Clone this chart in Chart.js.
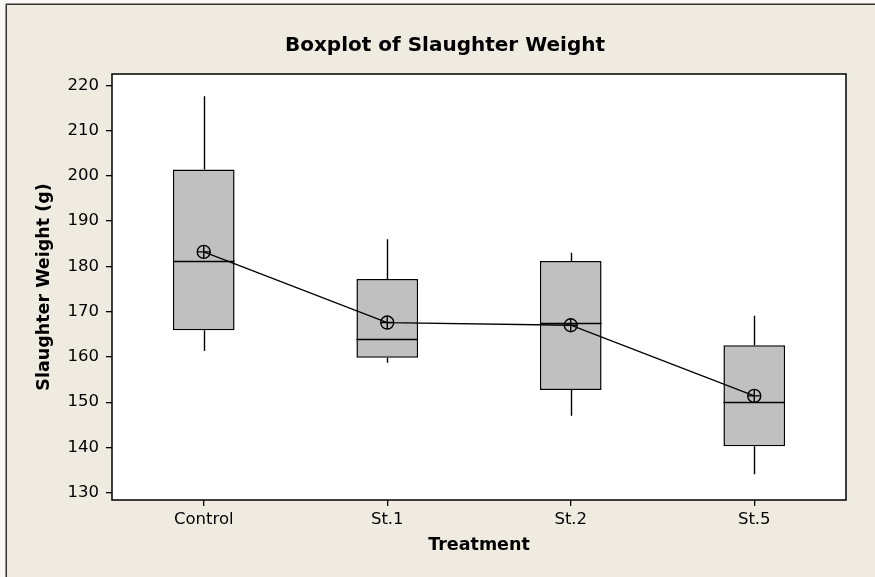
<!DOCTYPE html>
<html>
<head>
<meta charset="utf-8">
<script src="https://cdn.jsdelivr.net/npm/chart.js@4/dist/chart.umd.min.js"></script>
<style>
  body { margin: 0; background: #f8f7f3; }
  canvas { display: block; }
</style>
</head>
<body>
<canvas id="boxChart" width="875" height="577"></canvas>
<script>
// Boxplot values (g)
const categories = ['Control', 'St.1', 'St.2', 'St.5'];
const whiskerLow = [161.3, 158.7, 147.0, 134.1];
const q1 = [165.9, 159.8, 152.7, 140.3];
const median = [181.2, 163.9, 167.6, 150.0];
const q3 = [201.4, 177.2, 181.2, 162.6];
const whiskerHigh = [217.6, 186.0, 183.0, 169.1];
const means = [183.2, 167.6, 167.0, 151.4];

const font = 'DejaVu Sans';

// Backdrop, panel frame and the plot box
const backdrop = {
    id: 'backdrop',
    beforeDraw(chart) {
        const { ctx, width, height, chartArea: a } = chart;
        ctx.save();
        ctx.fillStyle = '#f8f7f3';
        ctx.fillRect(0, 0, width, height);
        ctx.fillStyle = '#efebe1';
        ctx.fillRect(6, 4, width - 6, height - 4);
        ctx.strokeStyle = '#333';
        ctx.lineWidth = 1.5;
        ctx.beginPath();
        ctx.moveTo(6.25, height);
        ctx.lineTo(6.25, 4.25);
        ctx.lineTo(width, 4.25);
        ctx.stroke();
        ctx.fillStyle = '#fff';
        ctx.fillRect(a.left, a.top, a.right - a.left, a.bottom - a.top);
        ctx.restore();
    },
    afterDraw(chart) {
        const { ctx, chartArea: a } = chart;
        ctx.save();
        ctx.strokeStyle = '#000';
        ctx.lineWidth = 1.5;
        ctx.strokeRect(Math.round(a.left), Math.round(a.top),
            Math.round(a.right - a.left), Math.round(a.bottom - a.top));
        ctx.restore();
    }
};

// Whiskers and medians, drawn right after the boxes
const whiskers = {
    id: 'whiskers',
    afterDatasetDraw(chart, args) {
        if (args.index !== 0) return;
        const { ctx, scales: { y } } = chart;
        ctx.save();
        ctx.strokeStyle = '#000';
        ctx.lineWidth = 1.4;
        args.meta.data.forEach((bar, i) => {
            const x = Math.round(bar.x) + 0.5;
            const half = bar.width / 2;
            ctx.beginPath();
            ctx.moveTo(x, y.getPixelForValue(q3[i]));
            ctx.lineTo(x, y.getPixelForValue(whiskerHigh[i]));
            ctx.moveTo(x, y.getPixelForValue(q1[i]));
            ctx.lineTo(x, y.getPixelForValue(whiskerLow[i]));
            const my = Math.round(y.getPixelForValue(median[i])) + 0.5;
            ctx.moveTo(bar.x - half, my);
            ctx.lineTo(bar.x + half, my);
            ctx.stroke();
        });
        ctx.restore();
    }
};

new Chart(document.getElementById('boxChart'), {
    type: 'bar',
    data: {
        labels: categories,
        datasets: [{
            label: 'Box',
            data: q1.map((v, i) => [v, q3[i]]),
            backgroundColor: '#c0c0c0',
            borderColor: '#000',
            borderWidth: 1.5,
            borderSkipped: false,
            barPercentage: 0.336,
            categoryPercentage: 1,
            order: 3
        }, {
            type: 'line',
            label: 'Mean',
            data: means,
            borderColor: '#000',
            borderWidth: 1.3,
            pointStyle: 'circle',
            pointRadius: 6.5,
            pointBorderWidth: 1.4,
            pointBorderColor: '#000',
            pointBackgroundColor: 'rgba(0,0,0,0)',
            order: 1
        }, {
            type: 'line',
            label: 'Mean cross',
            data: means,
            showLine: false,
            pointStyle: 'cross',
            pointRadius: 6.5,
            pointBorderWidth: 1.4,
            pointBorderColor: '#000',
            order: 0
        }]
    },
    plugins: [backdrop, whiskers],
    options: {
        responsive: false,
        animation: false,
        layout: { padding: { top: 0, right: 29, bottom: 0, left: 44 } },
        plugins: {
            legend: { display: false },
            tooltip: { enabled: false },
            title: {
                display: true,
                text: 'Boxplot of Slaughter Weight',
                color: '#000',
                font: { family: font, size: 20, weight: 'bold', lineHeight: 1.2 },
                padding: { top: 34, bottom: 16 }
            }
        },
        scales: {
            x: {
                offset: true,
                grid: { display: true, offset: false, drawOnChartArea: false, tickLength: 6, color: '#000', lineWidth: 1.3 },
                border: { display: false },
                ticks: { color: '#000', font: { family: font, size: 16.5 }, padding: 4 },
                title: {
                    display: true,
                    text: 'Treatment',
                    color: '#000',
                    font: { family: font, size: 17.5, weight: 'bold', lineHeight: 1.2 },
                    padding: { top: 0, bottom: 21 }
                },
                afterFit(scale) { scale.height = 77; }
            },
            y: {
                min: 128.4,
                max: 222.5,
                grid: { display: true, drawOnChartArea: false, tickLength: 6, color: '#000', lineWidth: 1.3 },
                border: { display: false },
                ticks: { stepSize: 10, includeBounds: false, color: '#000', font: { family: font, size: 16.5 }, padding: 7 },
                title: {
                    display: true,
                    text: 'Slaughter Weight (g)',
                    color: '#000',
                    font: { family: font, size: 17.5, weight: 'bold', lineHeight: 1.2 },
                    padding: { top: -10, bottom: 0 }
                },
                afterFit(scale) { scale.width = 68; }
            }
        }
    }
});
</script>
</body>
</html>
